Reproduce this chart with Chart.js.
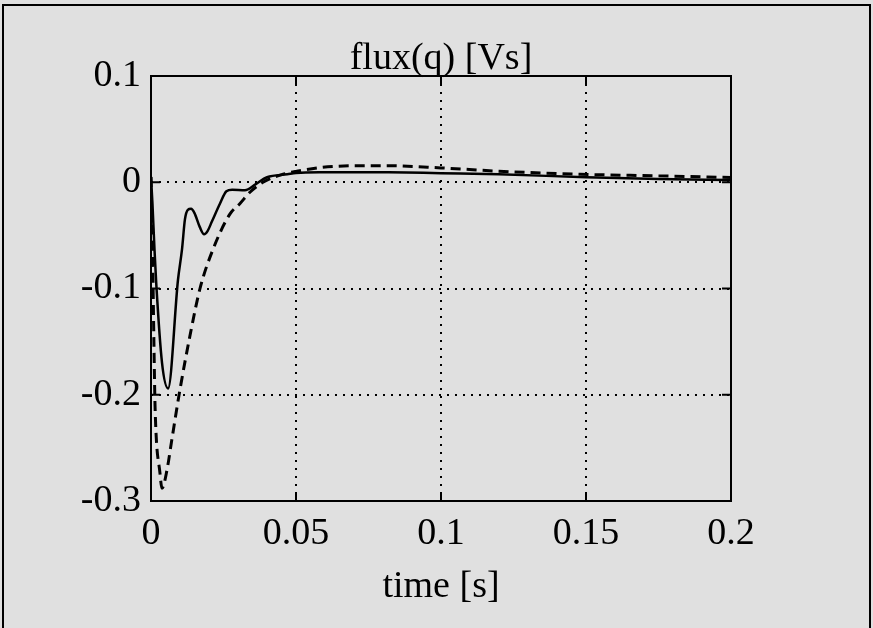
<!DOCTYPE html>
<html>
<head>
<meta charset="utf-8">
<title>flux(q)</title>
<script src="https://cdn.jsdelivr.net/npm/chart.js@4/dist/chart.umd.min.js"></script>
<style>
    html, body {
        margin: 0;
        padding: 0;
        background: #e0e0e0;
        overflow: hidden;
    }
    .wrap {
        position: relative;
        width: 873px;
        height: 628px;
    }
    .frame {
        position: absolute;
        left: 2px;
        top: 4px;
        width: 865px;
        height: 660px;
        border: 2px solid #000;
        pointer-events: none;
    }
</style>
</head>
<body>
<div class="wrap">
    <canvas id="fluxChart" width="873" height="628"></canvas>
    <div class="frame"></div>
</div>
<script>
// Datos
const tSolid = [0, 0.0005, 0.0012, 0.0018, 0.0038, 0.0059, 0.0093, 0.0107, 0.0117, 0.0127, 0.0138, 0.015, 0.0168, 0.0183, 0.0195, 0.021, 0.0238, 0.026, 0.028, 0.0324, 0.036, 0.04, 0.047, 0.05, 0.06, 0.07, 0.082, 0.1, 0.12, 0.15, 0.175, 0.2];
const fluxSolid = [0.005, -0.02, -0.063, -0.095, -0.17, -0.194, -0.092, -0.063, -0.035, -0.026, -0.025, -0.029, -0.042, -0.049, -0.046, -0.037, -0.02, -0.0085, -0.007, -0.0075, -0.002, 0.0047, 0.0075, 0.0088, 0.0094, 0.0095, 0.0094, 0.0085, 0.0075, 0.0047, 0.003, 0.002];

const tDashed = [0, 0.0005, 0.001, 0.0014, 0.0031, 0.0038, 0.0055, 0.0072, 0.01, 0.0134, 0.0169, 0.0214, 0.0272, 0.0307, 0.0341, 0.0386, 0.0455, 0.0503, 0.059, 0.07, 0.082, 0.1, 0.12, 0.148, 0.175, 0.2];
const fluxDashed = [0.005, -0.06, -0.15, -0.211, -0.274, -0.288, -0.271, -0.242, -0.195, -0.145, -0.1, -0.063, -0.03, -0.02, -0.0094, 0, 0.0075, 0.0104, 0.014, 0.0155, 0.0155, 0.0135, 0.0104, 0.0075, 0.006, 0.0045];

const xTicks = [0, 0.05, 0.1, 0.15, 0.2];
const yTicks = [-0.3, -0.2, -0.1, 0, 0.1];

const serif = "'Liberation Serif', 'Times New Roman', serif";

function toPoints(xs, ys) {
    return xs.map((x, i) => ({ x: x, y: ys[i] }));
}

// Marco del área y marcas hacia dentro
const boxTicks = {
    id: 'boxTicks',
    afterDraw(chart) {
        const { ctx, chartArea: a, scales } = chart;
        const len = 9;
        ctx.save();
        ctx.strokeStyle = '#000';
        ctx.lineWidth = 2;
        ctx.beginPath();
        scales.x.ticks.forEach(t => {
            const px = scales.x.getPixelForValue(t.value);
            ctx.moveTo(px, a.bottom);
            ctx.lineTo(px, a.bottom - len);
            ctx.moveTo(px, a.top);
            ctx.lineTo(px, a.top + len);
        });
        scales.y.ticks.forEach(t => {
            const py = scales.y.getPixelForValue(t.value);
            ctx.moveTo(a.left, py);
            ctx.lineTo(a.left + len, py);
            ctx.moveTo(a.right, py);
            ctx.lineTo(a.right - len, py);
        });
        ctx.stroke();
        ctx.strokeRect(a.left, a.top, a.right - a.left, a.bottom - a.top);
        ctx.restore();
    }
};

const ctx = document.getElementById('fluxChart');

new Chart(ctx, {
    type: 'line',
    data: {
        datasets: [{
            label: 'solid',
            data: toPoints(tSolid, fluxSolid),
            borderColor: '#000',
            borderWidth: 2.5,
            pointRadius: 0,
            cubicInterpolationMode: 'monotone',
            fill: false
        }, {
            label: 'dashed',
            data: toPoints(tDashed, fluxDashed),
            borderColor: '#000',
            borderWidth: 3,
            borderDash: [10, 6],
            pointRadius: 0,
            cubicInterpolationMode: 'monotone',
            fill: false
        }]
    },
    options: {
        responsive: false,
        animation: false,
        events: [],
        layout: {
            padding: { top: 0, right: 142, bottom: 0, left: 0 }
        },
        plugins: {
            legend: { display: false },
            tooltip: { enabled: false },
            title: { display: false }
        },
        scales: {
            x: {
                type: 'linear',
                min: 0,
                max: 0.2,
                afterBuildTicks: scale => { scale.ticks = xTicks.map(v => ({ value: v })); },
                afterFit: scale => { scale.height = 127; },
                ticks: {
                    color: '#000',
                    padding: 10,
                    maxRotation: 0,
                    font: { family: serif, size: 38 },
                    callback: v => String(v)
                },
                grid: {
                    color: '#000',
                    lineWidth: 2,
                    drawTicks: false
                },
                border: { display: false, dash: [2, 6] },
                title: {
                    display: true,
                    text: 'time [s]',
                    color: '#000',
                    font: { family: serif, size: 38 },
                    padding: { top: 0, bottom: 18 }
                }
            },
            // eje superior solo para el título, centrado sobre el área
            xTop: {
                type: 'linear',
                position: 'top',
                afterFit: scale => { scale.height = 76; },
                ticks: { display: false },
                grid: { display: false },
                border: { display: false },
                title: {
                    display: true,
                    text: 'flux(q) [Vs]',
                    color: '#000',
                    font: { family: serif, size: 38 },
                    padding: { top: 36, bottom: 0 }
                }
            },
            y: {
                type: 'linear',
                min: -0.3,
                max: 0.1,
                afterBuildTicks: scale => { scale.ticks = yTicks.map(v => ({ value: v })); },
                afterFit: scale => { scale.width = 151; },
                ticks: {
                    color: '#000',
                    padding: 10,
                    font: { family: serif, size: 38 },
                    callback: v => String(v)
                },
                grid: {
                    color: '#000',
                    lineWidth: 2,
                    drawTicks: false
                },
                border: { display: false, dash: [2, 6] }
            }
        }
    },
    plugins: [boxTicks]
});
</script>
</body>
</html>
